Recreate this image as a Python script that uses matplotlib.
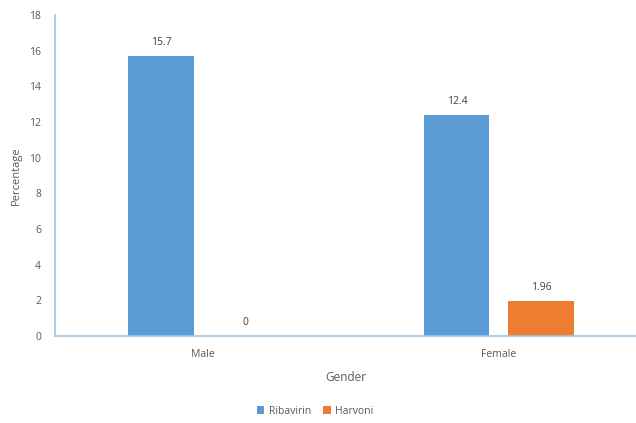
import matplotlib
matplotlib.use("Agg")
import matplotlib.pyplot as plt
import numpy as np

plt.rcParams['font.family'] = ['Open Sans', 'DejaVu Sans']

categories = ["Male", "Female"]
series_names = ["Ribavirin", "Harvoni"]
ribavirin = [15.7, 12.4]
harvoni = [0, 1.96]
value_labels_rib = ["15.7", "12.4"]
value_labels_har = ["0", "1.96"]
yticks = [0, 2, 4, 6, 8, 10, 12, 14, 16, 18]

colors = ["#5B9BD5", "#ED7D31"]
text_color = "#595959"
axis_color = "#9DC3E6"

fig = plt.figure(figsize=(6.36, 4.23), dpi=100)
ax = fig.add_axes([55/636, 87/423, 581/636, 321/423])

x = np.arange(len(categories))
w = 0.22
off = 0.142
b1 = ax.bar(x - off, ribavirin, w, color=colors[0], label=series_names[0])
b2 = ax.bar(x + off, harvoni, w, color=colors[1], label=series_names[1])

for bars, labs in ((b1, value_labels_rib), (b2, value_labels_har)):
    for rect, lab in zip(bars, labs):
        ax.annotate(lab, (rect.get_x() + rect.get_width()/2, rect.get_height()),
                    xytext=(0, 6), textcoords="offset points", ha="center", va="bottom",
                    fontsize=7.5, color="#404040")

ax.set_xlim(-0.5, 1.463)
ax.set_ylim(0, 18)
ax.set_yticks(yticks)
ax.set_xticks(x)
ax.set_xticklabels(categories)
ax.tick_params(axis='both', length=0, labelsize=7.5, labelcolor=text_color)
ax.tick_params(axis='y', pad=10)
ax.tick_params(axis='x', pad=9)
for s in ("top", "right"):
    ax.spines[s].set_visible(False)
for s in ("left", "bottom"):
    ax.spines[s].set_color(axis_color)
    ax.spines[s].set_linewidth(1.2)

ax.set_ylabel("Percentage", fontsize=8, color=text_color, labelpad=5)
ax.set_xlabel("Gender", fontsize=8.5, color=text_color, labelpad=8)

fig.legend(handles=[b1, b2], labels=series_names, loc="center", bbox_to_anchor=(315/636, 1 - 411/423),
           ncol=2, frameon=False, fontsize=7.5, handlelength=0.7, handleheight=0.7,
           handletextpad=0.4, columnspacing=1.2, labelcolor=text_color)

fig.savefig("out.png", dpi=100)
